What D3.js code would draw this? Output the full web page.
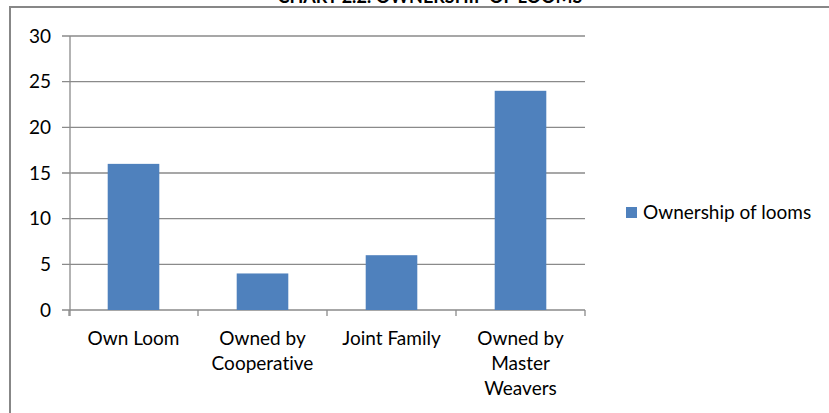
<!DOCTYPE html>
<html>
  <head>
    <meta charset="utf-8">
    <title>Ownership of looms</title>
    <script src="https://cdn.jsdelivr.net/npm/d3@7"></script>
    <style>
      body { margin: 0; background: #fff; }
      text { font-family: Lato, "Open Sans", sans-serif; fill: #000; font-variant-ligatures: none; }
    </style>
  </head>
  <body>
  <script>
    // data
    var categories = [["Own Loom"], ["Owned by", "Cooperative"], ["Joint Family"], ["Owned by", "Master", "Weavers"]];
    var values = [16, 4, 6, 24];
    var yTicks = [0, 5, 10, 15, 20, 25, 30];
    var seriesName = "Ownership of looms";
    var title = "CHART 2.2: OWNERSHIP OF LOOMS";

    var width = 829, height = 413;
    var svg = d3.select("body").append("svg")
        .attr("width", width)
        .attr("height", height);

    // outer chart frame (only top and left visible)
    svg.append("path")
        .attr("d", "M10,413 V7 H829")
        .attr("fill", "none")
        .attr("stroke", "#878787")
        .attr("stroke-width", 2);

    // title, clipped by the top edge like in the source
    svg.append("text")
        .attr("x", 430)
        .attr("y", 3)
        .attr("text-anchor", "middle")
        .style("font-weight", "bold")
        .style("font-size", "18px")
        .text(title);

    var x = d3.scaleBand()
        .domain(d3.range(categories.length))
        .range([69, 585])
        .paddingInner(0.6)
        .paddingOuter(0.3);

    var y = d3.scaleLinear().domain([0, 30]).range([310, 36]);

    // horizontal gridlines + left ticks
    svg.selectAll(".grid")
        .data(yTicks)
        .enter().append("line")
        .attr("x1", 62).attr("x2", 585)
        .attr("y1", function (d) { return y(d); })
        .attr("y2", function (d) { return y(d); })
        .attr("stroke", "#8a8a8a")
        .attr("stroke-width", 1.3);

    svg.selectAll(".ylab")
        .data(yTicks)
        .enter().append("text")
        .attr("x", 51)
        .attr("y", function (d) { return y(d); })
        .attr("dy", "0.35em")
        .attr("text-anchor", "end")
        .style("font-size", "19px")
        .text(function (d) { return d; });

    // y axis line
    svg.append("line")
        .attr("x1", 70).attr("x2", 70)
        .attr("y1", y(30)).attr("y2", 316)
        .attr("stroke", "#8a8a8a")
        .attr("stroke-width", 1.3);

    // bars
    svg.selectAll(".bar")
        .data(values)
        .enter().append("rect")
        .attr("x", function (d, i) { return x(i); })
        .attr("y", function (d) { return y(d); })
        .attr("width", x.bandwidth())
        .attr("height", function (d) { return y(0) - y(d); })
        .attr("fill", "#4f81bd");

    // category ticks
    var step = x.step();
    svg.selectAll(".xtick")
        .data(d3.range(categories.length + 1))
        .enter().append("line")
        .attr("x1", function (d) { return 69 + d * step; })
        .attr("x2", function (d) { return 69 + d * step; })
        .attr("y1", 310).attr("y2", 316)
        .attr("stroke", "#8a8a8a")
        .attr("stroke-width", 1.3);

    // category labels
    var labels = svg.selectAll(".xlab")
        .data(categories)
        .enter().append("text")
        .attr("text-anchor", "middle")
        .style("font-size", "19px");

    labels.selectAll("tspan")
        .data(function (d, i) { return d.map(function (t, j) { return { t: t, i: i, j: j }; }); })
        .enter().append("tspan")
        .attr("x", function (d) { return x(d.i) + x.bandwidth() / 2; })
        .attr("y", function (d) { return 345 + d.j * 25; })
        .text(function (d) { return d.t; });

    // legend
    svg.append("rect")
        .attr("x", 626).attr("y", 207)
        .attr("width", 11).attr("height", 11)
        .attr("fill", "#4f81bd");

    svg.append("text")
        .attr("x", 643).attr("y", 212.5)
        .attr("dy", "0.35em")
        .style("font-size", "19px")
        .text(seriesName);
  </script>
  </body>
</html>
